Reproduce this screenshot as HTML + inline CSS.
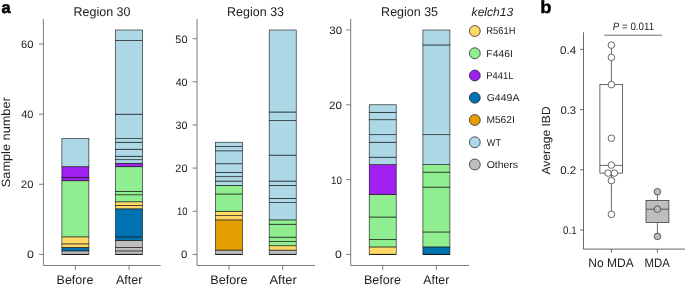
<!DOCTYPE html>
<html><head><meta charset="utf-8"><title>Figure</title>
<style>html,body{margin:0;padding:0;background:#fff}svg{display:block}</style>
</head><body>
<svg width="685" height="285" viewBox="0 0 685 285" font-family='"Liberation Sans", sans-serif' fill="#222" text-rendering="geometricPrecision">
<rect width="685" height="285" fill="#fff"/>
<text x="1.5" y="12.6" font-size="16.4" font-weight="bold" fill="#000" stroke="#000" stroke-width="0.55">a</text>
<text x="540.3" y="12.6" font-size="17.5" font-weight="bold" fill="#000" stroke="#000" stroke-width="0.4" textLength="11.3" lengthAdjust="spacingAndGlyphs">b</text>
<path d="M43.4 19V265.5H160.75" fill="none" stroke="#7d7d7d" stroke-width="1"/>
<path d="M39.0 254.40H43.4" stroke="#7d7d7d" stroke-width="1"/>
<text x="26.97" y="258.30" font-size="10.8" textLength="6.91" lengthAdjust="spacingAndGlyphs" >0</text>
<path d="M39.0 184.28H43.4" stroke="#7d7d7d" stroke-width="1"/>
<text x="21.01" y="188.18" font-size="10.8" textLength="12.43" lengthAdjust="spacingAndGlyphs" >20</text>
<path d="M39.0 114.15H43.4" stroke="#7d7d7d" stroke-width="1"/>
<text x="21.21" y="118.05" font-size="10.8" textLength="12.18" lengthAdjust="spacingAndGlyphs" >40</text>
<path d="M39.0 44.03H43.4" stroke="#7d7d7d" stroke-width="1"/>
<text x="20.98" y="47.93" font-size="10.8" textLength="12.42" lengthAdjust="spacingAndGlyphs" >60</text>
<path d="M75.40 265.5V269.8" stroke="#7d7d7d" stroke-width="1"/>
<path d="M129.10 265.5V269.8" stroke="#7d7d7d" stroke-width="1"/>
<rect x="61.90" y="250.89" width="27" height="3.51" fill="#BEBEBE" stroke="#111" stroke-width="0.6"/>
<rect x="61.90" y="247.39" width="27" height="3.51" fill="#0072B2" stroke="#111" stroke-width="0.6"/>
<rect x="61.90" y="243.88" width="27" height="3.51" fill="#FFD966" stroke="#111" stroke-width="0.6"/>
<rect x="61.90" y="236.87" width="27" height="7.01" fill="#FFD966" stroke="#111" stroke-width="0.6"/>
<rect x="61.90" y="180.77" width="27" height="56.10" fill="#90EE90" stroke="#111" stroke-width="0.6"/>
<rect x="61.90" y="177.26" width="27" height="3.51" fill="#A020F0" stroke="#111" stroke-width="0.6"/>
<rect x="61.90" y="166.74" width="27" height="10.52" fill="#A020F0" stroke="#111" stroke-width="0.6"/>
<rect x="61.90" y="138.69" width="27" height="28.05" fill="#ADD8E6" stroke="#111" stroke-width="0.6"/>
<path d="M61.90 254.4h27" stroke="#000" stroke-width="0.8"/>
<rect x="115.60" y="250.89" width="27" height="3.51" fill="#BEBEBE" stroke="#111" stroke-width="0.6"/>
<rect x="115.60" y="247.39" width="27" height="3.51" fill="#BEBEBE" stroke="#111" stroke-width="0.6"/>
<rect x="115.60" y="240.38" width="27" height="7.01" fill="#BEBEBE" stroke="#111" stroke-width="0.6"/>
<rect x="115.60" y="236.87" width="27" height="3.51" fill="#0072B2" stroke="#111" stroke-width="0.6"/>
<rect x="115.60" y="208.82" width="27" height="28.05" fill="#0072B2" stroke="#111" stroke-width="0.6"/>
<rect x="115.60" y="205.31" width="27" height="3.51" fill="#FFD966" stroke="#111" stroke-width="0.6"/>
<rect x="115.60" y="201.81" width="27" height="3.51" fill="#FFD966" stroke="#111" stroke-width="0.6"/>
<rect x="115.60" y="194.79" width="27" height="7.01" fill="#90EE90" stroke="#111" stroke-width="0.6"/>
<rect x="115.60" y="191.29" width="27" height="3.51" fill="#90EE90" stroke="#111" stroke-width="0.6"/>
<rect x="115.60" y="166.74" width="27" height="24.54" fill="#90EE90" stroke="#111" stroke-width="0.6"/>
<rect x="115.60" y="163.24" width="27" height="3.51" fill="#A020F0" stroke="#111" stroke-width="0.6"/>
<rect x="115.60" y="159.73" width="27" height="3.51" fill="#ADD8E6" stroke="#111" stroke-width="0.6"/>
<rect x="115.60" y="156.23" width="27" height="3.51" fill="#ADD8E6" stroke="#111" stroke-width="0.6"/>
<rect x="115.60" y="149.21" width="27" height="7.01" fill="#ADD8E6" stroke="#111" stroke-width="0.6"/>
<rect x="115.60" y="142.20" width="27" height="7.01" fill="#ADD8E6" stroke="#111" stroke-width="0.6"/>
<rect x="115.60" y="138.69" width="27" height="3.51" fill="#ADD8E6" stroke="#111" stroke-width="0.6"/>
<rect x="115.60" y="114.15" width="27" height="24.54" fill="#ADD8E6" stroke="#111" stroke-width="0.6"/>
<rect x="115.60" y="40.52" width="27" height="73.63" fill="#ADD8E6" stroke="#111" stroke-width="0.6"/>
<rect x="115.60" y="30.00" width="27" height="10.52" fill="#ADD8E6" stroke="#111" stroke-width="0.6"/>
<path d="M115.60 254.4h27" stroke="#000" stroke-width="0.8"/>
<text x="73.53" y="15.8" font-size="12.6" textLength="56.98" lengthAdjust="spacingAndGlyphs" >Region 30</text>
<path d="M197.0 19V265.5H315" fill="none" stroke="#7d7d7d" stroke-width="1"/>
<path d="M192.6 254.40H197.0" stroke="#7d7d7d" stroke-width="1"/>
<text x="181.14" y="258.30" font-size="10.8" textLength="6.36" lengthAdjust="spacingAndGlyphs" >0</text>
<path d="M192.6 211.25H197.0" stroke="#7d7d7d" stroke-width="1"/>
<text x="176.99" y="215.15" font-size="10.8" textLength="10.60" lengthAdjust="spacingAndGlyphs" >10</text>
<path d="M192.6 168.09H197.0" stroke="#7d7d7d" stroke-width="1"/>
<text x="175.35" y="171.99" font-size="10.8" textLength="12.26" lengthAdjust="spacingAndGlyphs" >20</text>
<path d="M192.6 124.94H197.0" stroke="#7d7d7d" stroke-width="1"/>
<text x="175.56" y="128.84" font-size="10.8" textLength="11.94" lengthAdjust="spacingAndGlyphs" >30</text>
<path d="M192.6 81.78H197.0" stroke="#7d7d7d" stroke-width="1"/>
<text x="175.66" y="85.68" font-size="10.8" textLength="11.85" lengthAdjust="spacingAndGlyphs" >40</text>
<path d="M192.6 38.63H197.0" stroke="#7d7d7d" stroke-width="1"/>
<text x="175.31" y="42.53" font-size="10.8" textLength="12.21" lengthAdjust="spacingAndGlyphs" >50</text>
<path d="M229.00 265.5V269.8" stroke="#7d7d7d" stroke-width="1"/>
<path d="M282.70 265.5V269.8" stroke="#7d7d7d" stroke-width="1"/>
<rect x="215.50" y="250.08" width="27" height="4.32" fill="#BEBEBE" stroke="#111" stroke-width="0.6"/>
<rect x="215.50" y="219.88" width="27" height="30.21" fill="#E69F00" stroke="#111" stroke-width="0.6"/>
<rect x="215.50" y="215.56" width="27" height="4.32" fill="#FFD966" stroke="#111" stroke-width="0.6"/>
<rect x="215.50" y="211.25" width="27" height="4.32" fill="#FFD966" stroke="#111" stroke-width="0.6"/>
<rect x="215.50" y="193.98" width="27" height="17.26" fill="#90EE90" stroke="#111" stroke-width="0.6"/>
<rect x="215.50" y="185.35" width="27" height="8.63" fill="#90EE90" stroke="#111" stroke-width="0.6"/>
<rect x="215.50" y="181.04" width="27" height="4.32" fill="#ADD8E6" stroke="#111" stroke-width="0.6"/>
<rect x="215.50" y="176.72" width="27" height="4.32" fill="#ADD8E6" stroke="#111" stroke-width="0.6"/>
<rect x="215.50" y="172.41" width="27" height="4.32" fill="#ADD8E6" stroke="#111" stroke-width="0.6"/>
<rect x="215.50" y="163.78" width="27" height="8.63" fill="#ADD8E6" stroke="#111" stroke-width="0.6"/>
<rect x="215.50" y="150.83" width="27" height="12.95" fill="#ADD8E6" stroke="#111" stroke-width="0.6"/>
<rect x="215.50" y="146.52" width="27" height="4.32" fill="#ADD8E6" stroke="#111" stroke-width="0.6"/>
<rect x="215.50" y="142.20" width="27" height="4.32" fill="#ADD8E6" stroke="#111" stroke-width="0.6"/>
<path d="M215.50 254.4h27" stroke="#000" stroke-width="0.8"/>
<rect x="269.20" y="250.08" width="27" height="4.32" fill="#BEBEBE" stroke="#111" stroke-width="0.6"/>
<rect x="269.20" y="245.77" width="27" height="4.32" fill="#FFD966" stroke="#111" stroke-width="0.6"/>
<rect x="269.20" y="241.45" width="27" height="4.32" fill="#90EE90" stroke="#111" stroke-width="0.6"/>
<rect x="269.20" y="237.14" width="27" height="4.32" fill="#90EE90" stroke="#111" stroke-width="0.6"/>
<rect x="269.20" y="224.19" width="27" height="12.95" fill="#90EE90" stroke="#111" stroke-width="0.6"/>
<rect x="269.20" y="219.88" width="27" height="4.32" fill="#90EE90" stroke="#111" stroke-width="0.6"/>
<rect x="269.20" y="202.62" width="27" height="17.26" fill="#ADD8E6" stroke="#111" stroke-width="0.6"/>
<rect x="269.20" y="198.30" width="27" height="4.32" fill="#ADD8E6" stroke="#111" stroke-width="0.6"/>
<rect x="269.20" y="185.35" width="27" height="12.95" fill="#ADD8E6" stroke="#111" stroke-width="0.6"/>
<rect x="269.20" y="181.04" width="27" height="4.32" fill="#ADD8E6" stroke="#111" stroke-width="0.6"/>
<rect x="269.20" y="155.15" width="27" height="25.89" fill="#ADD8E6" stroke="#111" stroke-width="0.6"/>
<rect x="269.20" y="120.62" width="27" height="34.52" fill="#ADD8E6" stroke="#111" stroke-width="0.6"/>
<rect x="269.20" y="111.99" width="27" height="8.63" fill="#ADD8E6" stroke="#111" stroke-width="0.6"/>
<rect x="269.20" y="30.00" width="27" height="81.99" fill="#ADD8E6" stroke="#111" stroke-width="0.6"/>
<path d="M269.20 254.4h27" stroke="#000" stroke-width="0.8"/>
<text x="227.12" y="15.8" font-size="12.6" textLength="56.92" lengthAdjust="spacingAndGlyphs" >Region 33</text>
<path d="M350.7 19V265.5H469" fill="none" stroke="#7d7d7d" stroke-width="1"/>
<path d="M346.3 254.40H350.7" stroke="#7d7d7d" stroke-width="1"/>
<text x="335.13" y="258.30" font-size="10.8" textLength="6.84" lengthAdjust="spacingAndGlyphs" >0</text>
<path d="M346.3 179.60H350.7" stroke="#7d7d7d" stroke-width="1"/>
<text x="330.96" y="183.50" font-size="10.8" textLength="10.90" lengthAdjust="spacingAndGlyphs" >10</text>
<path d="M346.3 104.80H350.7" stroke="#7d7d7d" stroke-width="1"/>
<text x="329.10" y="108.70" font-size="10.8" textLength="12.94" lengthAdjust="spacingAndGlyphs" >20</text>
<path d="M346.3 30.00H350.7" stroke="#7d7d7d" stroke-width="1"/>
<text x="329.28" y="33.90" font-size="10.8" textLength="12.81" lengthAdjust="spacingAndGlyphs" >30</text>
<path d="M382.70 265.5V269.8" stroke="#7d7d7d" stroke-width="1"/>
<path d="M436.40 265.5V269.8" stroke="#7d7d7d" stroke-width="1"/>
<rect x="369.20" y="246.92" width="27" height="7.48" fill="#FFD966" stroke="#111" stroke-width="0.6"/>
<rect x="369.20" y="239.44" width="27" height="7.48" fill="#90EE90" stroke="#111" stroke-width="0.6"/>
<rect x="369.20" y="217.00" width="27" height="22.44" fill="#90EE90" stroke="#111" stroke-width="0.6"/>
<rect x="369.20" y="194.56" width="27" height="22.44" fill="#90EE90" stroke="#111" stroke-width="0.6"/>
<rect x="369.20" y="164.64" width="27" height="29.92" fill="#A020F0" stroke="#111" stroke-width="0.6"/>
<rect x="369.20" y="157.16" width="27" height="7.48" fill="#ADD8E6" stroke="#111" stroke-width="0.6"/>
<rect x="369.20" y="142.20" width="27" height="14.96" fill="#ADD8E6" stroke="#111" stroke-width="0.6"/>
<rect x="369.20" y="134.72" width="27" height="7.48" fill="#ADD8E6" stroke="#111" stroke-width="0.6"/>
<rect x="369.20" y="119.76" width="27" height="14.96" fill="#ADD8E6" stroke="#111" stroke-width="0.6"/>
<rect x="369.20" y="112.28" width="27" height="7.48" fill="#ADD8E6" stroke="#111" stroke-width="0.6"/>
<rect x="369.20" y="104.80" width="27" height="7.48" fill="#ADD8E6" stroke="#111" stroke-width="0.6"/>
<path d="M369.20 254.4h27" stroke="#000" stroke-width="0.8"/>
<rect x="422.90" y="246.92" width="27" height="7.48" fill="#0072B2" stroke="#111" stroke-width="0.6"/>
<rect x="422.90" y="231.96" width="27" height="14.96" fill="#90EE90" stroke="#111" stroke-width="0.6"/>
<rect x="422.90" y="187.08" width="27" height="44.88" fill="#90EE90" stroke="#111" stroke-width="0.6"/>
<rect x="422.90" y="172.12" width="27" height="14.96" fill="#90EE90" stroke="#111" stroke-width="0.6"/>
<rect x="422.90" y="164.64" width="27" height="7.48" fill="#90EE90" stroke="#111" stroke-width="0.6"/>
<rect x="422.90" y="134.72" width="27" height="29.92" fill="#ADD8E6" stroke="#111" stroke-width="0.6"/>
<rect x="422.90" y="44.96" width="27" height="89.76" fill="#ADD8E6" stroke="#111" stroke-width="0.6"/>
<rect x="422.90" y="30.00" width="27" height="14.96" fill="#ADD8E6" stroke="#111" stroke-width="0.6"/>
<path d="M422.90 254.4h27" stroke="#000" stroke-width="0.8"/>
<text x="381.12" y="15.8" font-size="12.6" textLength="56.95" lengthAdjust="spacingAndGlyphs" >Region 35</text>
<text x="56.55" y="283.8" font-size="12.5" textLength="36.85" lengthAdjust="spacingAndGlyphs" >Before</text>
<text x="116.00" y="283.8" font-size="12.5" textLength="26.42" lengthAdjust="spacingAndGlyphs" >After</text>
<text x="210.31" y="283.8" font-size="12.5" textLength="37.36" lengthAdjust="spacingAndGlyphs" >Before</text>
<text x="269.49" y="283.8" font-size="12.5" textLength="27.24" lengthAdjust="spacingAndGlyphs" >After</text>
<text x="363.98" y="283.8" font-size="12.5" textLength="36.91" lengthAdjust="spacingAndGlyphs" >Before</text>
<text x="423.25" y="283.8" font-size="12.5" textLength="26.12" lengthAdjust="spacingAndGlyphs" >After</text>
<text transform="translate(9.5,187.2) rotate(-90)" font-size="12" textLength="90" lengthAdjust="spacingAndGlyphs">Sample number</text>
<text x="471.61" y="16.1" font-size="12" textLength="41.58" lengthAdjust="spacingAndGlyphs" font-style="italic">kelch13</text>
<circle cx="474.8" cy="31.00" r="5.45" fill="#FFD966" stroke="#222" stroke-width="0.75"/>
<text x="486.37" y="34.40" font-size="10" textLength="29.10" lengthAdjust="spacingAndGlyphs" >R561H</text>
<circle cx="474.8" cy="53.25" r="5.45" fill="#90EE90" stroke="#222" stroke-width="0.75"/>
<text x="486.31" y="56.65" font-size="10" textLength="26.52" lengthAdjust="spacingAndGlyphs" >F446I</text>
<circle cx="474.8" cy="75.50" r="5.45" fill="#A020F0" stroke="#222" stroke-width="0.75"/>
<text x="486.37" y="78.90" font-size="10" textLength="27.11" lengthAdjust="spacingAndGlyphs" >P441L</text>
<circle cx="474.8" cy="97.75" r="5.45" fill="#0072B2" stroke="#222" stroke-width="0.75"/>
<text x="486.70" y="101.15" font-size="10" textLength="32.71" lengthAdjust="spacingAndGlyphs" >G449A</text>
<circle cx="474.8" cy="120.00" r="5.45" fill="#E69F00" stroke="#222" stroke-width="0.75"/>
<text x="486.41" y="123.40" font-size="10" textLength="28.45" lengthAdjust="spacingAndGlyphs" >M562I</text>
<circle cx="474.8" cy="142.25" r="5.45" fill="#ADD8E6" stroke="#222" stroke-width="0.75"/>
<text x="486.81" y="145.65" font-size="10" textLength="14.17" lengthAdjust="spacingAndGlyphs" >WT</text>
<circle cx="474.8" cy="164.50" r="5.45" fill="#BEBEBE" stroke="#222" stroke-width="0.75"/>
<text x="486.65" y="167.90" font-size="10" textLength="31.46" lengthAdjust="spacingAndGlyphs" >Others</text>
<path d="M583.5 32.3V249.1H685" fill="none" stroke="#2a2a2a" stroke-width="0.7"/>
<path d="M580 49.4H583.5" stroke="#2a2a2a" stroke-width="0.7"/>
<text x="559.98" y="53.8" font-size="11" textLength="16.15" lengthAdjust="spacingAndGlyphs" >0.4</text>
<path d="M580 109.6H583.5" stroke="#2a2a2a" stroke-width="0.7"/>
<text x="560.40" y="114.0" font-size="11" textLength="15.66" lengthAdjust="spacingAndGlyphs" >0.3</text>
<path d="M580 169.8H583.5" stroke="#2a2a2a" stroke-width="0.7"/>
<text x="560.19" y="174.2" font-size="11" textLength="15.96" lengthAdjust="spacingAndGlyphs" >0.2</text>
<path d="M580 230.0H583.5" stroke="#2a2a2a" stroke-width="0.7"/>
<text x="562.94" y="234.4" font-size="11" textLength="13.67" lengthAdjust="spacingAndGlyphs" >0.1</text>
<path d="M611.4 249.1V252.6" stroke="#2a2a2a" stroke-width="0.7"/>
<path d="M657.4 249.1V252.6" stroke="#2a2a2a" stroke-width="0.7"/>
<text x="588.29" y="266.9" font-size="12.4" textLength="45.37" lengthAdjust="spacingAndGlyphs" >No MDA</text>
<text x="644.48" y="266.9" font-size="12.4" textLength="25.27" lengthAdjust="spacingAndGlyphs" >MDA</text>
<text transform="translate(550.1,174.5) rotate(-90)" font-size="11.8" textLength="68.1" lengthAdjust="spacingAndGlyphs">Average IBD</text>
<text x="612.75" y="30.0" font-size="10.6" textLength="41.37" lengthAdjust="spacingAndGlyphs" ><tspan font-style="italic">P</tspan> = 0.011</text>
<path d="M604.3 35.2H662" stroke="#2a2a2a" stroke-width="0.7"/>
<path d="M611.4 45.1V84.5M611.4 173.1V214.4" stroke="#2a2a2a" stroke-width="0.7"/>
<rect x="599.9" y="84.5" width="22.7" height="88.6" fill="#fff" stroke="#2a2a2a" stroke-width="0.7"/>
<path d="M599.9 165.4H622.6" stroke="#2a2a2a" stroke-width="0.7"/>
<circle cx="611.4" cy="45.1" r="3.3" fill="#fff" stroke="#2a2a2a" stroke-width="0.7"/>
<circle cx="611.4" cy="57.4" r="3.3" fill="#fff" stroke="#2a2a2a" stroke-width="0.7"/>
<circle cx="611.4" cy="84.7" r="3.3" fill="#fff" stroke="#2a2a2a" stroke-width="0.7"/>
<circle cx="611.4" cy="138.2" r="3.3" fill="#fff" stroke="#2a2a2a" stroke-width="0.7"/>
<circle cx="611.4" cy="165.1" r="3.3" fill="#fff" stroke="#2a2a2a" stroke-width="0.7"/>
<circle cx="608.1" cy="173.1" r="3.3" fill="#fff" stroke="#2a2a2a" stroke-width="0.7"/>
<circle cx="614.4" cy="173.1" r="3.3" fill="#fff" stroke="#2a2a2a" stroke-width="0.7"/>
<circle cx="611.4" cy="180.6" r="3.3" fill="#fff" stroke="#2a2a2a" stroke-width="0.7"/>
<circle cx="611.4" cy="214.4" r="3.3" fill="#fff" stroke="#2a2a2a" stroke-width="0.7"/>
<path d="M657.4 191.7V200.4M657.4 222.4V236.4" stroke="#2a2a2a" stroke-width="0.7"/>
<rect x="646" y="200.4" width="22.9" height="22" fill="#BEBEBE" stroke="#2a2a2a" stroke-width="0.7"/>
<path d="M646 209.2H668.9" stroke="#2a2a2a" stroke-width="0.7"/>
<circle cx="657.4" cy="191.7" r="3.3" fill="#BEBEBE" stroke="#2a2a2a" stroke-width="0.7"/>
<circle cx="657.4" cy="209.2" r="3.3" fill="#BEBEBE" stroke="#2a2a2a" stroke-width="0.7"/>
<circle cx="657.4" cy="236.4" r="3.3" fill="#BEBEBE" stroke="#2a2a2a" stroke-width="0.7"/>
</svg>
</body></html>
